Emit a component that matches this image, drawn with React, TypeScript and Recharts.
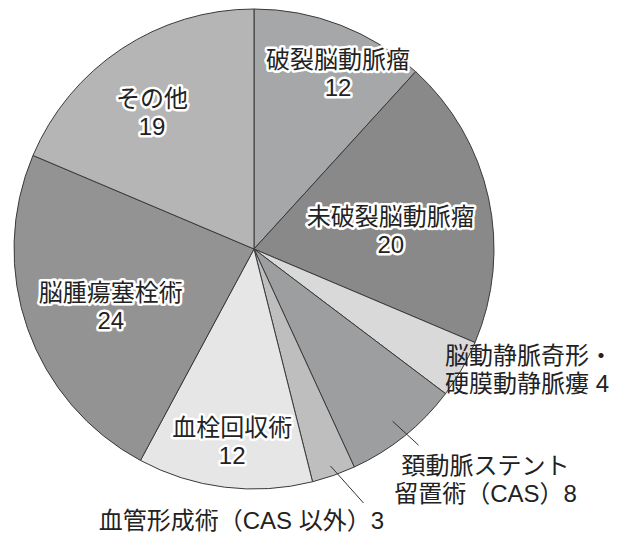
import React from "react";
import { PieChart, Pie, Cell } from "recharts";

const categories = [
  "破裂脳動脈瘤",
  "未破裂脳動脈瘤",
  "脳動静脈奇形・硬膜動静脈瘻",
  "頚動脈ステント留置術（CAS）",
  "血管形成術（CAS 以外）",
  "血栓回収術",
  "脳腫瘍塞栓術",
  "その他",
];
const values = [12, 20, 4, 8, 3, 12, 24, 19];
const labelLines: string[][] = [
  ["破裂脳動脈瘤", "12"],
  ["未破裂脳動脈瘤", "20"],
  ["脳動静脈奇形・", "硬膜動静脈瘻 4"],
  ["頚動脈ステント", "留置術（CAS）8"],
  ["血管形成術（CAS 以外）3"],
  ["血栓回収術", "12"],
  ["脳腫瘍塞栓術", "24"],
  ["その他", "19"],
];
const colors = ["#a5a7a8", "#898989", "#d9d9d9", "#9c9e9f", "#bebebe", "#e6e6e6", "#939393", "#b5b5b5"];

type Layout = {
  kind: "inside" | "outside" | "leader";
  r: number;
  dx: number;
  dy: number;
  ex?: number;
  ey?: number;
  anchor?: "start" | "middle" | "end";
};
const layouts: Layout[] = [
  { kind: "inside", r: 194, dx: 14, dy: 5 },
  { kind: "inside", r: 138, dx: 2, dy: 11 },
  { kind: "outside", r: 239, dx: -16, dy: 1, anchor: "start" },
  { kind: "leader", r: 221, dx: 93, dy: 58, ex: 26, ey: 24 },
  { kind: "leader", r: 230, dx: -89, dy: 55, ex: 33, ey: 37 },
  { kind: "inside", r: 194, dx: 2, dy: 0 },
  { kind: "inside", r: 154, dx: 2, dy: 6 },
  { kind: "inside", r: 170, dx: -8, dy: 5 },
];

const data = categories.map((name, i) => ({ name, value: values[i] }));

const FONT = "'Liberation Sans', 'Noto Sans CJK JP', sans-serif";
const FS = 24;
const LH = 28;

const renderLabel = (props: any) => {
  const { cx, cy, midAngle, index } = props;
  const L = layouts[index];
  const lines = labelLines[index];
  const rad = (midAngle * Math.PI) / 180;
  const bx = cx + L.r * Math.cos(rad);
  const by = cy - L.r * Math.sin(rad);
  const tx = bx + L.dx;
  const ty = by + L.dy;
  const halo = L.kind === "inside";
  const textProps: any = {
    fontFamily: FONT,
    fontSize: FS,
    fill: "#222",
    dominantBaseline: "central",
    textAnchor: L.anchor || "middle",
  };
  if (halo) {
    textProps.stroke = "#ffffff";
    textProps.strokeWidth = 5;
    textProps.strokeLinejoin = "round";
    textProps.paintOrder = "stroke";
  }
  const n = lines.length;
  return (
    <g key={`lbl-${index}`}>
      {L.kind === "leader" && (
        <line x1={bx} y1={by} x2={bx + (L.ex || 0)} y2={by + (L.ey || 0)} stroke="#333" strokeWidth={1} />
      )}
      {lines.map((t, k) => (
        <text key={k} x={tx} y={ty + (k - (n - 1) / 2) * LH} {...textProps}>
          {t}
        </text>
      ))}
    </g>
  );
};

export default function App() {
  return (
    <PieChart width={622} height={533} margin={{ top: 0, right: 0, bottom: 0, left: 0 }}>
      <Pie
        data={data}
        dataKey="value"
        nameKey="name"
        cx={246}
        cy={241}
        outerRadius={240}
        startAngle={90}
        endAngle={-270}
        stroke="#3a3a3a"
        strokeWidth={1}
        isAnimationActive={false}
        labelLine={false}
        label={renderLabel}
      >
        {data.map((d, i) => (
          <Cell key={d.name} fill={colors[i]} />
        ))}
      </Pie>
    </PieChart>
  );
}
